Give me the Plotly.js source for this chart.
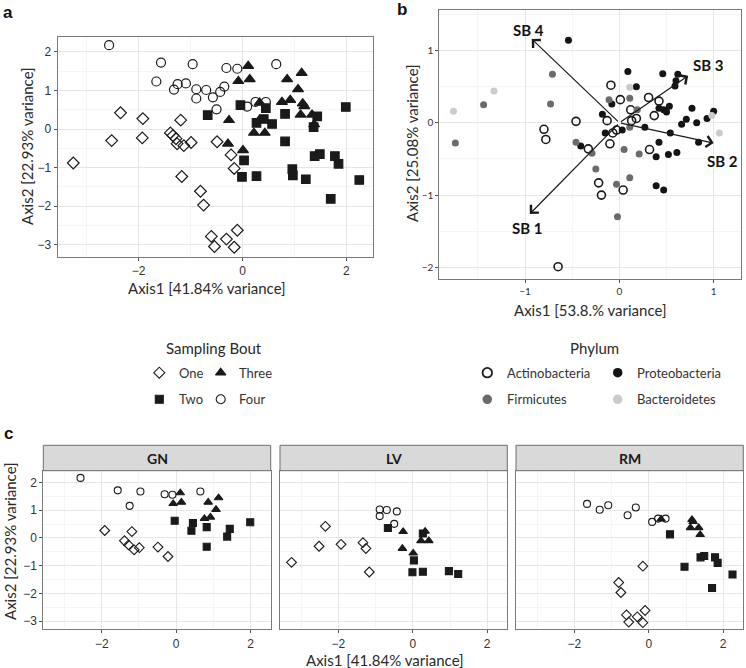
<!DOCTYPE html>
<html><head><meta charset="utf-8">
<script src="https://cdn.plot.ly/plotly-3.0.1.min.js"></script>
<style>html,body{margin:0;padding:0;background:#fff}#chart{width:746px;height:668px}</style>
</head><body><div id="chart"></div>
<script>
// ---------- Sampling bout ordination (Axis1 41.84%, Axis2 22.93%) per site ----------
const bouts = ['One', 'Two', 'Three', 'Four'];
const sites = ['GN', 'LV', 'RM'];

const gnOneX = [-1.92, -1.19, -1.39, -1.28, -1.13, -0.99, -0.49, -0.22];
const gnOneY = [0.27, 0.23, -0.10, -0.25, -0.43, -0.35, -0.33, -0.67];
const gnTwoX = [-0.04, 0.45, 0.41, 0.82, 0.82, 1.37, 1.44, 1.99];
const gnTwoY = [0.62, 0.54, 0.26, 0.39, -0.32, 0.05, 0.33, 0.57];
const gnThreeX = [0.11, -0.08, 0.14, 0.86, 1.14, 1.07, 0.76, 0.92];
const gnThreeY = [1.63, 1.24, 1.29, 1.29, 1.45, 1.03, 0.70, 0.75];
const gnFourX = [-2.57, -1.57, -0.96, -0.31, -0.10, 0.65, -1.25];
const gnFourY = [2.17, 1.72, 1.68, 1.58, 1.56, 1.68, 1.16];

const lvOneX = [-3.26, -2.35, -2.52, -1.93, -1.34, -1.26, -1.17];
const lvOneY = [-0.88, 0.42, -0.30, -0.23, -0.17, -0.38, -1.23];
const lvTwoX = [-0.67, 0.27, 0.03, -0.01, 0.27, 0.97, 1.22];
const lvTwoY = [0.36, 0.16, -0.81, -1.24, -1.22, -1.20, -1.30];
const lvThreeX = [-0.26, 0.33, 0.22, 0.43, -0.28, 0.01];
const lvThreeY = [0.23, 0.24, -0.10, -0.10, -0.38, -0.55];
const lvFourX = [-0.89, -0.89, -0.70, -0.43, -0.50];
const lvFourY = [1.03, 0.79, 1.01, 0.96, 0.51];

const rmOneX = [-0.16, -0.81, -0.75, -0.60, -0.54, -0.31, -0.10, -0.16];
const rmOneY = [-1.02, -1.61, -1.97, -2.78, -3.04, -2.85, -2.62, -3.06];
const rmTwoX = [0.57, 1.39, 1.49, 1.78, 1.85, 0.96, 2.25, 1.70];
const rmTwoY = [0.13, -0.70, -0.65, -0.70, -0.90, -1.04, -1.32, -1.81];
const rmThreeX = [0.33, 1.16, 1.19, 1.12, 1.34, 1.38];
const rmThreeY = [0.68, 0.66, 0.59, 0.37, 0.37, 0.12];
const rmFourX = [-1.66, -1.32, -1.09, -0.57, -0.35, 0.09, 0.25, 0.45];
const rmFourY = [1.23, 1.02, 1.18, 0.82, 1.10, 0.58, 0.70, 0.70];

// ---------- Phylum biplot (Axis1 53.8%, Axis2 25.08%) ----------
const phyla = ['Actinobacteria', 'Proteobacteria', 'Firmicutes', 'Bacteroidetes'];
const actinoX = [-0.09, 0.01, 0.31, 0.42, 0.37, 0.12, 0.18, 0.13, -0.46, -0.13, -0.80, -0.78, -0.33, -0.07, -0.03, -0.10, 0.32, -0.22, -0.19, 0.04, -0.65];
const actinoY = [0.52, 0.32, 0.35, 0.30, 0.10, 0.18, 0.06, 0.03, 0.02, 0.03, -0.09, -0.23, -0.36, -0.14, -0.10, -0.29, -0.37, -0.83, -1.00, -0.93, -1.99];
const proteoX = [-0.54, 0.09, 0.18, 0.46, 0.62, 0.60, 0.59, -0.08, -0.18, 0.42, 0.47, 0.50, 0.53, 0.77, 0.71, 0.66, 0.82, 0.93, 1.00, 0.03, -0.15, 0.27, 0.54, 0.84, -0.41, 0.42, 0.39, 0.52, 0.61, 0.39, 0.47];
const proteoY = [1.14, 0.71, 0.50, 0.68, 0.67, 0.58, 0.51, 0.26, 0.12, 0.20, 0.18, 0.15, 0.23, 0.20, 0.05, -0.02, 0.00, 0.06, 0.16, -0.10, -0.14, -0.06, -0.14, -0.27, -0.32, -0.27, -0.47, -0.44, -0.41, -0.87, -0.93];
const firmiX = [-0.71, -1.44, -0.73, -1.74, -0.46, -0.11, 0.11, 0.19, 0.11, -0.29, -0.25, 0.05, 0.21, 0.11, -0.03, -0.02];
const firmiY = [0.67, 0.25, 0.26, -0.28, -0.27, 0.32, 0.34, 0.18, -0.06, -0.42, -0.64, -0.37, -0.43, -0.76, -0.85, -1.30];
const bacterX = [-1.76, -1.33, 0.11, 1.06, 0.98];
const bacterY = [0.16, 0.44, 0.49, -0.14, 0.10];

// Sampling-bout vectors
const sbLabels = ['SB 1', 'SB 2', 'SB 3', 'SB 4'];
const sbX = [-0.95, 1.00, 0.73, -0.93];
const sbY = [-1.26, -0.28, 0.65, 1.16];
const sbLabX = [-0.98, 1.09, 0.94, -0.965];
const sbLabY = [-1.45, -0.535, 0.80, 1.29];

// ---------- styling ----------
const ink = '#1a1a1a';
const boutSym = {One: 'diamond-open', Two: 'square', Three: 'triangle-up', Four: 'circle-open'};
const boutSizeA = {One: 9, Two: 8.5, Three: 9.5, Four: 9};
const boutSizeC = {One: 7.5, Two: 7, Three: 7.5, Four: 7};
const phylumColor = {Actinobacteria: '#ffffff', Proteobacteria: '#141414', Firmicutes: '#6b6b6b', Bacteroidetes: '#cbcbcb'};

const siteData = {
  GN: {One: [gnOneX, gnOneY], Two: [gnTwoX, gnTwoY], Three: [gnThreeX, gnThreeY], Four: [gnFourX, gnFourY]},
  LV: {One: [lvOneX, lvOneY], Two: [lvTwoX, lvTwoY], Three: [lvThreeX, lvThreeY], Four: [lvFourX, lvFourY]},
  RM: {One: [rmOneX, rmOneY], Two: [rmTwoX, rmTwoY], Three: [rmThreeX, rmThreeY], Four: [rmFourX, rmFourY]}
};
const phylumData = {
  Actinobacteria: [actinoX, actinoY], Proteobacteria: [proteoX, proteoY],
  Firmicutes: [firmiX, firmiY], Bacteroidetes: [bacterX, bacterY]
};

const traces = [];
// panel a: all sites combined
bouts.forEach(b => {
  let xs = [], ys = [];
  sites.forEach(s => { xs = xs.concat(siteData[s][b][0]); ys = ys.concat(siteData[s][b][1]); });
  traces.push({x: xs, y: ys, xaxis: 'x', yaxis: 'y', type: 'scatter', mode: 'markers', cliponaxis: false,
    marker: {symbol: boutSym[b], size: boutSizeA[b], color: ink, line: {color: ink, width: 1.2}}});
});
// panel c: facets
sites.forEach((s, i) => {
  bouts.forEach(b => {
    traces.push({x: siteData[s][b][0], y: siteData[s][b][1], xaxis: 'x' + (i + 3), yaxis: 'y' + (i + 3),
      type: 'scatter', mode: 'markers',
      marker: {symbol: boutSym[b], size: boutSizeC[b], color: ink, line: {color: ink, width: 1.1}}});
  });
});
// panel b
phyla.forEach(p => {
  const open = p === 'Actinobacteria';
  traces.push({x: phylumData[p][0], y: phylumData[p][1], xaxis: 'x2', yaxis: 'y2', type: 'scatter', mode: 'markers',
    marker: {symbol: open ? 'circle-open' : 'circle', size: open ? 8 : 7, color: open ? ink : phylumColor[p],
      line: {color: open ? ink : phylumColor[p], width: open ? 1.6 : 0}}});
});

// legend keys drawn in a pixel overlay (x6/y6)
const legX1 = 159.3, legX2 = 220.7, legTx1 = 176.7, legTx2 = 237.3;
const pLegX1 = 487.3, pLegX2 = 617.7, pTx1 = 505, pTx2 = 635;
const row1 = 372.7, row2 = 399.3;
const boutKeyPos = {One: [legX1, row1, legTx1], Three: [legX2, row1, legTx2], Two: [legX1, row2, legTx1], Four: [legX2, row2, legTx2]};
const phyKeyPos = {Actinobacteria: [pLegX1, row1, pTx1], Proteobacteria: [pLegX2, row1, pTx2], Firmicutes: [pLegX1, row2, pTx1], Bacteroidetes: [pLegX2, row2, pTx2]};
const boutSizeL = {One: 8.5, Two: 8, Three: 9, Four: 9};
bouts.forEach(b => {
  traces.push({x: [boutKeyPos[b][0]], y: [boutKeyPos[b][1]], xaxis: 'x6', yaxis: 'y6', type: 'scatter', mode: 'markers',
    marker: {symbol: boutSym[b], size: boutSizeL[b], color: ink, line: {color: ink, width: 1.1}}});
});
phyla.forEach(p => {
  const open = p === 'Actinobacteria';
  traces.push({x: [phyKeyPos[p][0]], y: [phyKeyPos[p][1]], xaxis: 'x6', yaxis: 'y6', type: 'scatter', mode: 'markers',
    marker: {symbol: open ? 'circle-open' : 'circle', size: 9.5, color: open ? ink : phylumColor[p],
      line: {color: open ? ink : phylumColor[p], width: open ? 1.8 : 0}}});
});

// ---------- axes ----------
const W = 746, H = 668;
const fx = px => px / W;
const fy = py => 1 - py / H;
const tickFont = {family: 'Liberation Sans, Arial, sans-serif', size: 12, color: '#333'};
const gridMaj = '#e6e6e6', gridMin = '#f2f2f2', border = '#7a7a7a';
function ax(domain, range, dtick, mdtick, anchor, extra) {
  return Object.assign({
    domain: domain, range: range, anchor: anchor, dtick: dtick, tick0: 0, showgrid: true, gridcolor: gridMaj, gridwidth: 1,
    minor: {dtick: mdtick, tick0: 0, showgrid: true, gridcolor: gridMin, gridwidth: 0.8, ticks: ''},
    zeroline: false, showline: true, mirror: true, linecolor: border, linewidth: 1,
    ticks: 'outside', ticklen: 3, tickcolor: '#555', tickwidth: 1, tickfont: tickFont, fixedrange: true
  }, extra || {});
}
const bTick = {tickfont: {family: 'Lato, sans-serif', size: 10, color: '#333'}};
const cY = [fy(629.3), fy(470.7)];
const layout = {
  width: W, height: H, margin: {l: 0, r: 0, t: 0, b: 0}, showlegend: false,
  paper_bgcolor: '#ffffff', plot_bgcolor: 'rgba(0,0,0,0)',
  xaxis: ax([fx(57.7), fx(373.3)], [-3.56, 2.52], 2, 1, 'y'),
  yaxis: ax([fy(256.5), fy(36.7)], [-3.30, 2.39], 1, 0.5, 'x'),
  xaxis2: ax([fx(439.3), fx(741)], [-1.91, 1.29], 1, 0.5, 'y2', bTick),
  yaxis2: ax([fy(279), fy(10)], [-2.16, 1.56], 1, 0.5, 'x2', bTick),
  xaxis3: ax([fx(43.3), fx(270.7)], [-3.57, 2.54], 2, 1, 'y3'),
  yaxis3: ax(cY, [-3.30, 2.43], 1, 0.5, 'x3'),
  xaxis4: ax([fx(280), fx(507.3)], [-3.57, 2.54], 2, 1, 'y4'),
  yaxis4: ax(cY, [-3.30, 2.43], 1, 0.5, 'x4', {showticklabels: false, ticks: ''}),
  xaxis5: ax([fx(516), fx(743.3)], [-3.57, 2.54], 2, 1, 'y5'),
  yaxis5: ax(cY, [-3.30, 2.43], 1, 0.5, 'x5', {showticklabels: false, ticks: ''}),
  xaxis6: {domain: [0, 1], range: [0, W], anchor: 'y6', visible: false, fixedrange: true},
  yaxis6: {domain: [0, 1], range: [H, 0], anchor: 'x6', visible: false, fixedrange: true},
  shapes: [], annotations: []
};

// facet strips
const stripX = {GN: [43.3, 270.7], LV: [280, 507.3], RM: [516, 743.3]};
sites.forEach(s => {
  layout.shapes.push({type: 'rect', xref: 'x6', yref: 'y6', x0: stripX[s][0], x1: stripX[s][1], y0: 445.3, y1: 470.7,
    fillcolor: '#d9d9d9', line: {color: '#6e6e6e', width: 1}, layer: 'below'});
  layout.annotations.push({xref: 'x6', yref: 'y6', x: (stripX[s][0] + stripX[s][1]) / 2, y: 458.3, text: '<b>' + s + '</b>',
    showarrow: false, font: {family: 'Lato, sans-serif', size: 14, color: '#1a1a1a'}});
});

const titleFont = {family: 'Lato, sans-serif', size: 15, color: '#2a2a2a'};
function txt(x, y, t, opts) {
  layout.annotations.push(Object.assign({xref: 'x6', yref: 'y6', x: x, y: y, text: t, showarrow: false, font: titleFont}, opts || {}));
}
txt(207, 288, 'Axis1 [41.84% variance]');
txt(27, 146, 'Axis2 [22.93% variance]', {textangle: -90});
txt(590, 310, 'Axis1 [53.8.% variance]');
txt(412, 143, 'Axis2 [25.08% variance]', {textangle: -90});
txt(385, 660, 'Axis1 [41.84% variance]');
txt(10, 541, 'Axis2 [22.93% variance]', {textangle: -90});
const panelFont = {family: 'Liberation Sans, Arial, sans-serif', size: 17, color: '#111'};
txt(8, 12, '<b>a</b>', {font: panelFont});
txt(402, 9, '<b>b</b>', {font: panelFont});
txt(8, 433, '<b>c</b>', {font: panelFont});
txt(214, 348, 'Sampling Bout');
txt(594, 348, 'Phylum');
const legFont = {family: 'Lato, sans-serif', size: 13, color: '#333'};
bouts.forEach(b => txt(boutKeyPos[b][2], boutKeyPos[b][1], b, {xanchor: 'left', font: legFont}));
phyla.forEach(p => txt(phyKeyPos[p][2], phyKeyPos[p][1], p, {xanchor: 'left', font: legFont}));

// biplot arrows and labels
sbLabels.forEach((l, i) => {
  layout.annotations.push({xref: 'x2', yref: 'y2', axref: 'x2', ayref: 'y2', x: sbX[i], y: sbY[i], ax: 0, ay: 0,
    text: '', showarrow: true, arrowhead: 4, arrowsize: 1.8, arrowwidth: 1.2, arrowcolor: ink, standoff: 0});
  layout.annotations.push({xref: 'x2', yref: 'y2', x: sbLabX[i], y: sbLabY[i], text: '<b>' + l + '</b>', showarrow: false,
    font: {family: 'Lato, sans-serif', size: 15, color: '#111'}});
});

Plotly.newPlot('chart', traces, layout, {staticPlot: true, displayModeBar: false});
</script></body></html>
